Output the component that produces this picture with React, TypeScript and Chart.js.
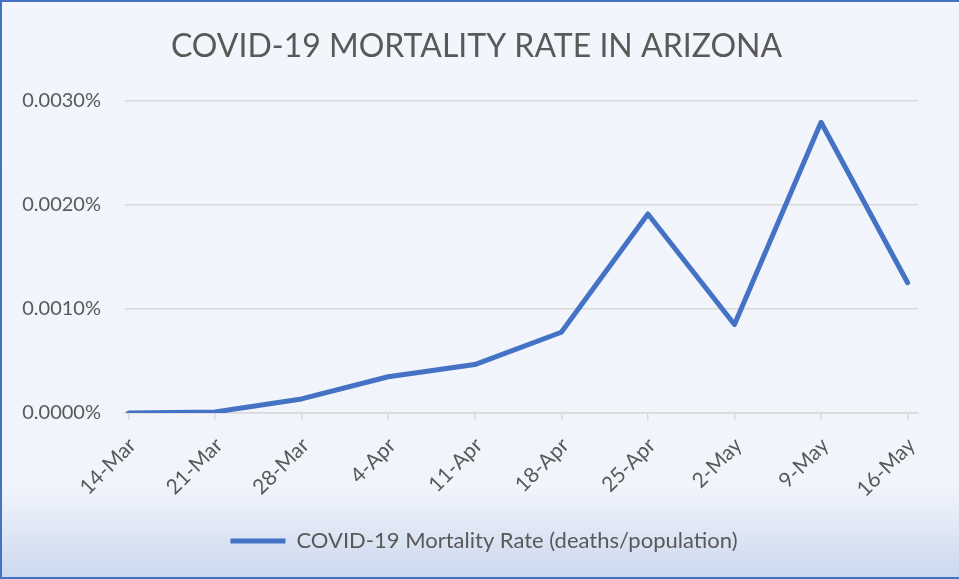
import React, { useEffect, useRef } from "react";
import { Chart, registerables } from "chart.js";

Chart.register(...registerables);

const TITLE = "COVID-19 MORTALITY RATE IN ARIZONA";
const SERIES_NAME = "COVID-19 Mortality Rate (deaths/population)";
const categories = ["14-Mar", "21-Mar", "28-Mar", "4-Apr", "11-Apr", "18-Apr", "25-Apr", "2-May", "9-May", "16-May"];
// values in percent (0.00191 means 0.00191%)
const mortalityRate = [0.0, 0.00001, 0.000135, 0.000348, 0.000465, 0.000775, 0.00191, 0.00085, 0.00279, 0.00125];
const yTicks = [0, 0.001, 0.002, 0.003];

const TEXT = "#595959";
const GRID = "#D9D9D9";
const LINE = "#4472C4";
const FONT = "Lato";

const bgPlugin = {
  id: "bg",
  afterLayout(chart: any) {
    if (chart.titleBlock) chart.titleBlock.left = 35;
    if (chart.legend) chart.legend.left = 50;
  },
  beforeDraw(chart: any) {
    const { ctx, width, height } = chart;
    ctx.save();
    const g = ctx.createLinearGradient(0, 0, 0, height);
    g.addColorStop(0, "#F2F5FC");
    g.addColorStop(0.84, "#F1F4FB");
    g.addColorStop(1, "#CBD8EE");
    ctx.fillStyle = g;
    ctx.fillRect(0, 0, width, height);
    ctx.strokeStyle = LINE;
    ctx.lineWidth = 3;
    ctx.beginPath();
    ctx.moveTo(width + 5, 0.5);
    ctx.lineTo(0.5, 0.5);
    ctx.lineTo(0.5, height - 0.5);
    ctx.lineTo(width + 5, height - 0.5);
    ctx.stroke();
    ctx.restore();
  },
};

export default function App() {
  const ref = useRef<HTMLCanvasElement>(null);
  useEffect(() => {
    document.body.style.margin = "0";
    const chart = new Chart(ref.current!, {
      type: "line",
      data: {
        datasets: [
          {
            label: SERIES_NAME,
            data: mortalityRate.map((v, i) => ({ x: i, y: v })),
            borderColor: LINE,
            backgroundColor: LINE,
            borderWidth: 5,
            borderCapStyle: "round",
            borderJoinStyle: "round",
            pointRadius: 0,
            tension: 0,
          },
        ],
      },
      options: {
        responsive: false,
        animation: false,
        devicePixelRatio: 1,
        layout: { padding: { top: 0, left: 18, right: 41, bottom: 17 } },
        plugins: {
          tooltip: { enabled: false },
          title: {
            display: true,
            text: TITLE,
            color: TEXT,
            font: { family: FONT, size: 32, weight: "normal", lineHeight: 1.2 },
            padding: { top: 27, bottom: 35 },
          },
          legend: {
            position: "bottom",
            labels: {
              color: TEXT,
              font: { family: FONT, size: 22 },
              usePointStyle: true,
              pointStyle: "line",
              pointStyleWidth: 55,
              padding: 10,
            },
          },
        },
        scales: {
          x: {
            type: "linear",
            min: -0.04,
            max: 9.12,
            afterBuildTicks: (scale: any) => {
              scale.ticks = categories.map((_, i) => ({ value: i }));
            },
            afterFit: (scale: any) => {
              scale.height = 107;
            },
            ticks: {
              color: TEXT,
              font: { family: FONT, size: 21 },
              minRotation: 45,
              maxRotation: 45,
              padding: 13,
              labelOffset: 4,
              callback: (v: any) => categories[Math.round(Number(v))] ?? "",
            },
            grid: { display: true, drawOnChartArea: false, drawTicks: true, tickLength: 7, color: GRID, lineWidth: 1.5 },
            border: { display: true, color: GRID, width: 1.5 },
          },
          y: {
            min: 0,
            max: 0.003,
            afterBuildTicks: (scale: any) => {
              scale.ticks = yTicks.map((v) => ({ value: v }));
            },
            afterFit: (scale: any) => {
              scale.width = 107;
            },
            ticks: {
              color: TEXT,
              font: { family: FONT, size: 20 },
              padding: 24,
              callback: (v: any) => Number(v).toFixed(4) + "%",
            },
            grid: { color: GRID, lineWidth: 1.5, drawTicks: false },
            border: { display: false },
          },
        },
      },
      plugins: [bgPlugin],
    } as any);
    return () => chart.destroy();
  }, []);
  return (
    <div style={{ position: "fixed", left: 0, top: 0, width: 959, height: 579 }}>
      <canvas ref={ref} width={959} height={579} style={{ display: "block" }} />
    </div>
  );
}
